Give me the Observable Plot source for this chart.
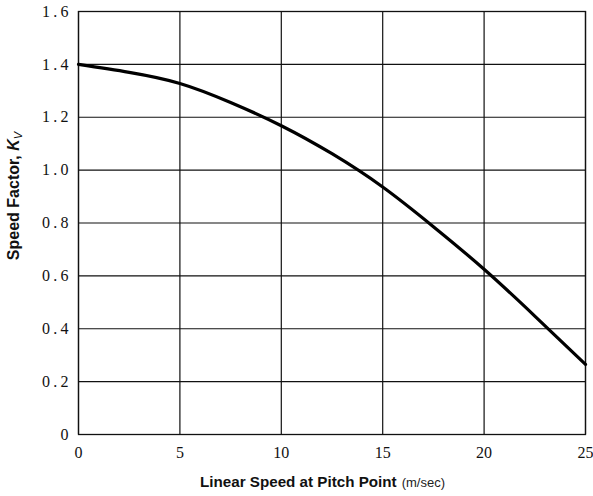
<!DOCTYPE html>
<html>
<head>
<meta charset="utf-8">
<script src="https://cdn.jsdelivr.net/npm/d3@7"></script>
<script src="https://cdn.jsdelivr.net/npm/@observablehq/plot@0.6"></script>
<style>
  html, body { margin: 0; padding: 0; background: #fff; }
  #chart { width: 593px; height: 496px; }
</style>
</head>
<body>
<div id="chart"></div>
<script>
const speed = [0, 2.5, 5, 7.5, 10, 12.5, 15, 17.5, 20, 22.5, 25];
const kv = [1.40, 1.37, 1.328, 1.256, 1.168, 1.062, 0.936, 0.786, 0.625, 0.448, 0.265];
const xTicks = [0, 5, 10, 15, 20, 25];
const yTicks = [0, 0.2, 0.4, 0.6, 0.8, 1.0, 1.2, 1.4, 1.6];

const data = speed.map((s, i) => ({s, k: kv[i]}));

const W = 593, H = 496;
const serif = "'Liberation Serif', 'DejaVu Serif', serif";
const sans = "'Liberation Sans', Arial, sans-serif";
const plot = Plot.plot({
  width: W,
  height: H,
  marginLeft: 78,
  marginRight: 8,
  marginTop: 11,
  marginBottom: 62,
  style: {background: "#fff", fontFamily: serif, fontSize: "16px", color: "#111"},
  x: {domain: [0, 25], ticks: xTicks},
  y: {domain: [0, 1.6], ticks: yTicks},
  marks: [
    Plot.gridX(xTicks, {stroke: "#111", strokeOpacity: 1, strokeWidth: 1.2}),
    Plot.gridY(yTicks, {stroke: "#111", strokeOpacity: 1, strokeWidth: 1.2}),
    Plot.frame({stroke: "#111", strokeWidth: 1.3}),
    Plot.axisX(xTicks, {tickSize: 0, tickPadding: 12, label: null, fontSize: 16, fontFamily: serif, tickFormat: d => String(d)}),
    Plot.axisY(yTicks, {tickSize: 0, tickPadding: 10, label: null, fontSize: 16, fontFamily: serif, tickFormat: d => d === 0 ? "0" : d.toFixed(1).replace(".", "\u2009.\u2009")}),
    Plot.line(data, {x: "s", y: "k", curve: "natural", stroke: "#000", strokeWidth: 3.2})
  ]
});
document.getElementById("chart").appendChild(plot);

const svg = d3.select(plot);

// x axis title
const xt = svg.append("text")
  .attr("x", 200)
  .attr("y", H - 9)
  .attr("text-anchor", "start")
  .style("font-family", sans)
  .attr("fill", "#111");
xt.append("tspan").attr("font-weight", "bold").attr("font-size", "15.2px").text("Linear Speed at Pitch Point");
xt.append("tspan").attr("font-weight", "normal").attr("font-size", "13px").attr("dx", "5").attr("fill", "#222").text("(m/sec)");

// y axis title
const yt = svg.append("text")
  .attr("transform", `translate(19,196) rotate(-90)`)
  .attr("text-anchor", "middle")
  .style("font-family", sans)
  .style("font-size", "16px")
  .attr("font-weight", "bold")
  .attr("fill", "#111");
yt.append("tspan").text("Speed Factor, ");
yt.append("tspan").attr("font-style", "italic").text("K");
yt.append("tspan").attr("font-size", "11px").attr("dy", "3").attr("font-style", "italic").attr("font-weight", "normal").text("V");
</script>
</body>
</html>
